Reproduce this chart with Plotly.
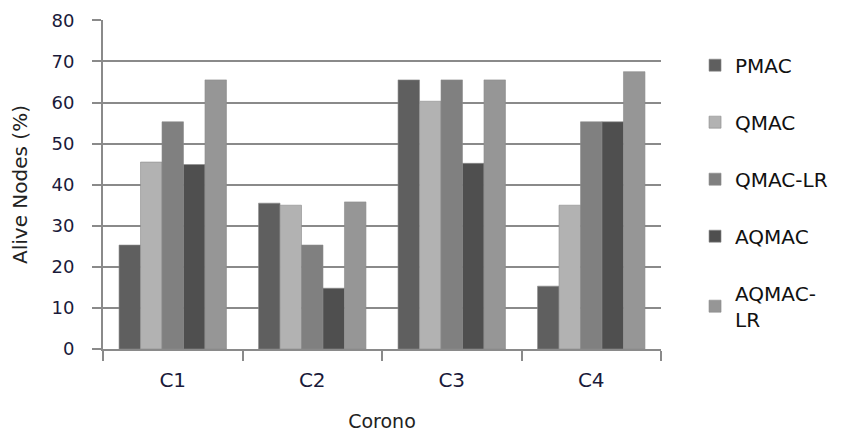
import plotly.graph_objects as go

categories = ["C1", "C2", "C3", "C4"]
series_names = ["PMAC", "QMAC", "QMAC-LR", "AQMAC", "AQMAC-LR"]
legend_labels = ["PMAC", "QMAC", "QMAC-LR", "AQMAC", "AQMAC-<br>LR"]
pmac = [25.3, 35.5, 65.5, 15.3]
qmac = [45.5, 35.0, 60.3, 35.0]
qmac_lr = [55.3, 25.3, 65.5, 55.3]
aqmac = [44.9, 14.8, 45.2, 55.3]
aqmac_lr = [65.5, 35.8, 65.5, 67.5]
y_ticks = [0, 10, 20, 30, 40, 50, 60, 70, 80]

values = [pmac, qmac, qmac_lr, aqmac, aqmac_lr]
colors = ["#5f5f5f", "#b2b2b2", "#808080", "#4f4f4f", "#969696"]

fig = go.Figure()
for i, (name, lab, vals, col) in enumerate(zip(series_names, legend_labels, values, colors)):
    fig.add_trace(go.Bar(
        x=categories, y=vals, name=lab, legendgroup=name,
        marker=dict(color=col, line=dict(color="#8c8c8c", width=0.6)),
    ))

font_fam = "DejaVu Sans, Verdana, sans-serif"
fig.update_layout(
    width=846, height=434,
    margin=dict(l=95, r=193, t=12, b=93, autoexpand=False),
    paper_bgcolor="white", plot_bgcolor="white",
    barmode="group", bargap=0.23, bargroupgap=0,
    font=dict(family=font_fam, size=20, color="#111111"),
    showlegend=True,
    legend=dict(
        x=1.061, y=0.922, xanchor="left", yanchor="top",
        font=dict(family=font_fam, size=20, color="#111111"),
        tracegroupgap=28, itemwidth=30,
        bgcolor="rgba(0,0,0,0)",
    ),
    xaxis=dict(
        automargin=False,
        showline=True, linecolor="#8a8a8a", linewidth=2,
        ticks="outside", ticklen=10, tickcolor="#8a8a8a", tickwidth=2,
        tickson="boundaries", showgrid=False,
        tickfont=dict(size=20, color="#1a1a3a"),
        ticklabelstandoff=12,
        title=dict(text="Corono", font=dict(size=19, color="#222222"), standoff=24),
    ),
    yaxis=dict(
        automargin=False,
        range=[0, 80.08], tickvals=y_ticks,
        ticklabeloverflow="allow",
        showline=True, linecolor="#8a8a8a", linewidth=2,
        ticks="outside", ticklen=9, tickcolor="#8a8a8a", tickwidth=2,
        showgrid=True, gridcolor="#8a8a8a", gridwidth=1.5,
        zeroline=False,
        tickfont=dict(size=18, color="#1a1a3a"),
        ticklabelstandoff=14,
        title=dict(text="Alive Nodes (%)", font=dict(size=20, color="#222222"), standoff=24),
    ),
)

fig.write_html("out.html")
